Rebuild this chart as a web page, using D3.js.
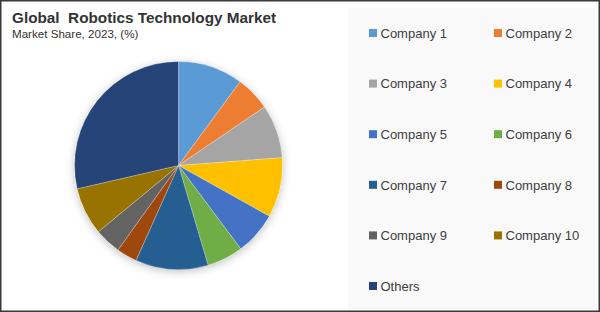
<!DOCTYPE html>
<html><head><meta charset="utf-8">
<script src="https://cdn.jsdelivr.net/npm/d3@7/dist/d3.min.js"></script>
<style>
html,body{margin:0;padding:0;background:#fff;}
svg{display:block;font-family:"Liberation Sans",Arial,sans-serif;}
</style></head>
<body><svg id="c" width="600" height="312"></svg>
<script>
const categories = ["Company 1","Company 2","Company 3","Company 4","Company 5","Company 6","Company 7","Company 8","Company 9","Company 10","Others"];
const shares = [10.1,5.4,8.3,9.3,6.7,5.6,11.3,3.2,4.1,7.4,28.6];
const colors = ["#5B9BD5","#ED7D31","#A5A5A5","#FFC000","#4472C4","#70AD47","#255E91","#9E480E","#636363","#997300","#264478"];
const titleText = "Global\u00a0 Robotics Technology Market";
const subtitleText = "Market Share, 2023, (%)";

const W = 600, H = 312;
const svg = d3.select("#c");

// outer frame
svg.append("rect").attr("x",0.75).attr("y",0.75).attr("width",W-1.5).attr("height",H-1.5)
  .attr("fill","#fff").attr("stroke","#3a3a3a").attr("stroke-width",1.5);

// legend panel
svg.append("rect").attr("x",348).attr("y",8).attr("width",248).attr("height",301).attr("fill","#f9f9f9");

// titles
svg.append("text").attr("x",12).attr("y",22.5).attr("fill","#333")
  .attr("font-size",15.3).attr("font-weight","bold").text(titleText);
svg.append("text").attr("x",12).attr("y",38).attr("fill","#333")
  .attr("font-size",11.6).text(subtitleText);

// shadow
const defs = svg.append("defs");
const f = defs.append("filter").attr("id","sh").attr("x","-20%").attr("y","-20%").attr("width","140%").attr("height","140%");
f.append("feDropShadow").attr("dx",0).attr("dy",2).attr("stdDeviation",4).attr("flood-color","#000").attr("flood-opacity",0.25);

const cx = 178.5, cy = 165.5, r = 104;
const pie = d3.pie().sort(null).value(d=>d.v);
const arc = d3.arc().innerRadius(0).outerRadius(r);
const data = categories.map((c,i)=>({c, v:shares[i], col:colors[i]}));
const g = svg.append("g").attr("transform",`translate(${cx},${cy})`);
g.append("circle").attr("r",r).attr("fill","#fff").attr("filter","url(#sh)");
g.selectAll("path").data(pie(data)).join("path")
  .attr("d",arc).attr("fill",d=>d.data.col).attr("stroke","#fff").attr("stroke-width",0.4).attr("stroke-opacity",0.6);

// legend
const colX = d3.scaleOrdinal().domain([0,1]).range([369,494]);
const rowY = d3.scaleLinear().domain([0,5]).range([33,286]);
const lg = svg.append("g");
data.forEach((d,i)=>{
  const x = colX(i%2), y = rowY(Math.floor(i/2));
  lg.append("rect").attr("x",x).attr("y",y-4).attr("width",8).attr("height",8).attr("fill",d.col);
  lg.append("text").attr("x",x+11.5).attr("y",y+4.8).attr("font-size",13).attr("fill","#404040").text(d.c);
});
</script></body></html>
